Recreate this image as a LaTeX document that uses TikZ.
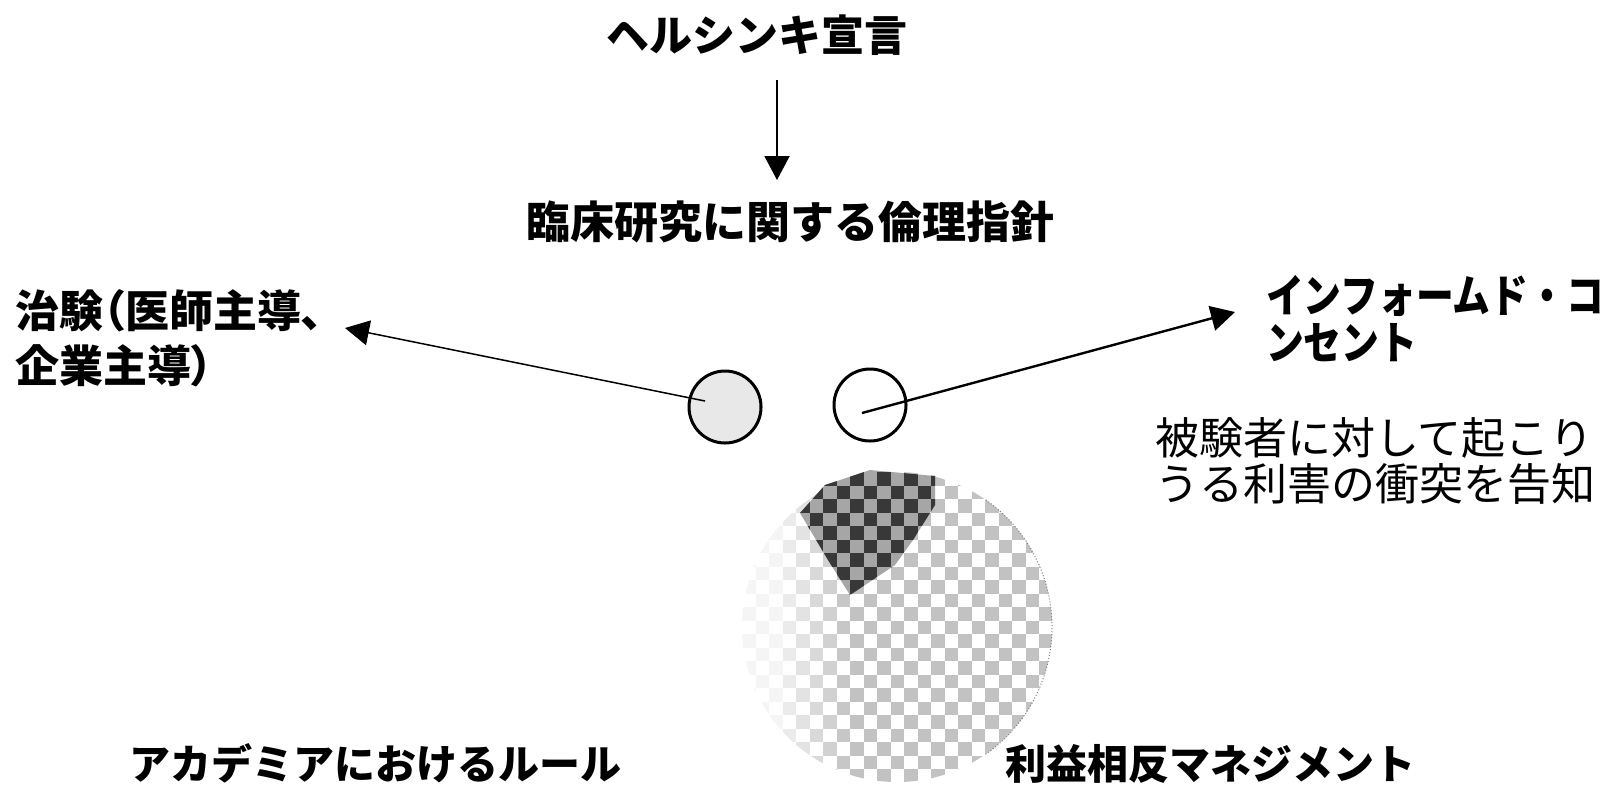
\documentclass[tikz,border=0pt]{standalone}
\usepackage{fontspec}
\setmainfont{Noto Sans CJK JP}
\newfontfamily\jpp{Noto Sans CJK JP}[RawFeature=+palt]
\newfontfamily\jpn{Noto Sans CJK JP}[FakeStretch=0.84]
\usetikzlibrary{arrows.meta}
\begin{document}
\begin{tikzpicture}[x=0.5pt,y=-0.5pt,
  txt/.style={inner sep=0pt, outer sep=0pt},
  hd/.style={txt, font=\bfseries\fontsize{22pt}{27.5pt}\selectfont},
  arr/.style={-{Triangle[length=12pt,width=12.5pt]}, line width=1pt},
  ring/.style={circle, draw, line width=1.5pt, minimum size=36pt, inner sep=0pt}
]
\fill[white] (0,0) rectangle (1604,784);
\useasboundingbox (0,0) rectangle (1604,784);

% texts (multi-line nodes: base = baseline of last line)
\node[hd, font=\bfseries\fontsize{21.5pt}{26pt}\selectfont, anchor=base] (t1) at (757,51) {ヘルシンキ宣言};
\node[hd, anchor=base] (t2) at (790,238) {臨床研究に関する倫理指針};
\node[hd, font=\jpp\bfseries\fontsize{22pt}{27.5pt}\selectfont, anchor=base west, align=left] (lt) at (15,382) {治験（医師主導、\\企業主導）};
\node[hd, font=\jpn\bfseries\fontsize{22.5pt}{23.5pt}\selectfont, anchor=base west, align=left] (rt) at (1266,359) {インフォームド・コ\\ンセント};
\node[txt, font=\fontsize{22pt}{23pt}\selectfont, anchor=base west, align=left] (nt) at (1155,500) {被験者に対して起こり\\うる利害の衝突を告知};
\node[hd, font=\bfseries\fontsize{20.5pt}{24pt}\selectfont, anchor=base] (b1) at (375,779) {アカデミアにおけるルール};
\node[hd, font=\bfseries\fontsize{20.5pt}{24pt}\selectfont, anchor=base] (b2) at (1210,779) {利益相反マネジメント};

% small circles
\node[ring, fill=black!9] (c1) at (725,407) {};
\node[ring, fill=white] (c2) at (870,405) {};

% big dithered circle
\node[circle, minimum size=155pt, inner sep=0pt] (bc) at (897,627) {};
\begin{scope}
  \path[clip] (bc.center) circle[radius=77.5pt];
  \foreach \i in {0,...,23}{
    \foreach \j in {0,...,23}{
      \pgfmathtruncatemacro\pp{mod(\i+\j,2)}
      \ifnum\pp=0
        \pgfmathsetmacro\sx{742+13.5*\i}
        \pgfmathsetmacro\sy{472+13.5*\j}
        \pgfmathtruncatemacro\lvl{min(24,max(4,(\sx-750)*0.26))}
        \fill[black!\lvl] (\sx,\sy) rectangle ++(13.5,13.5);
      \fi
    }
  }
\end{scope}
\begin{scope}
  \path[clip] (800,513) -- (825,485) -- (870,470) -- (935,476) -- (935,505) -- (913,540) -- (895,565) -- (850,595) -- (828,560) -- cycle;
  \fill[black!35] (790,460) rectangle (950,600);
  \foreach \i in {0,...,12}{
    \foreach \j in {0,...,10}{
      \pgfmathtruncatemacro\pp{mod(\i+\j,2)}
      \ifnum\pp=0
        \pgfmathsetmacro\sx{796+13.5*\i}
        \pgfmathsetmacro\sy{472+13.5*\j}
        \fill[black!78] (\sx,\sy) rectangle ++(13.5,13.5);
      \fi
    }
  }
\end{scope}
\draw[black!50, line width=0.5pt, densely dotted] (bc.center) ++(-55:155) arc[start angle=-55, end angle=55, radius=155];

% connectors
\draw[arr] ([xshift=10pt,yshift=-14.5pt]t1.base) -- ([xshift=-6.5pt,yshift=29pt]t2.base);
\draw[arr, line width=0.75pt] ([shift={(-20,-6)}]c1.center) -- ([shift={(330,-54)}]lt.base west);
\draw[arr, line width=1.2pt] ([shift={(-8,8)}]c2.center) -- ([shift={(-31,-47)}]rt.base west);
\end{tikzpicture}
\end{document}
